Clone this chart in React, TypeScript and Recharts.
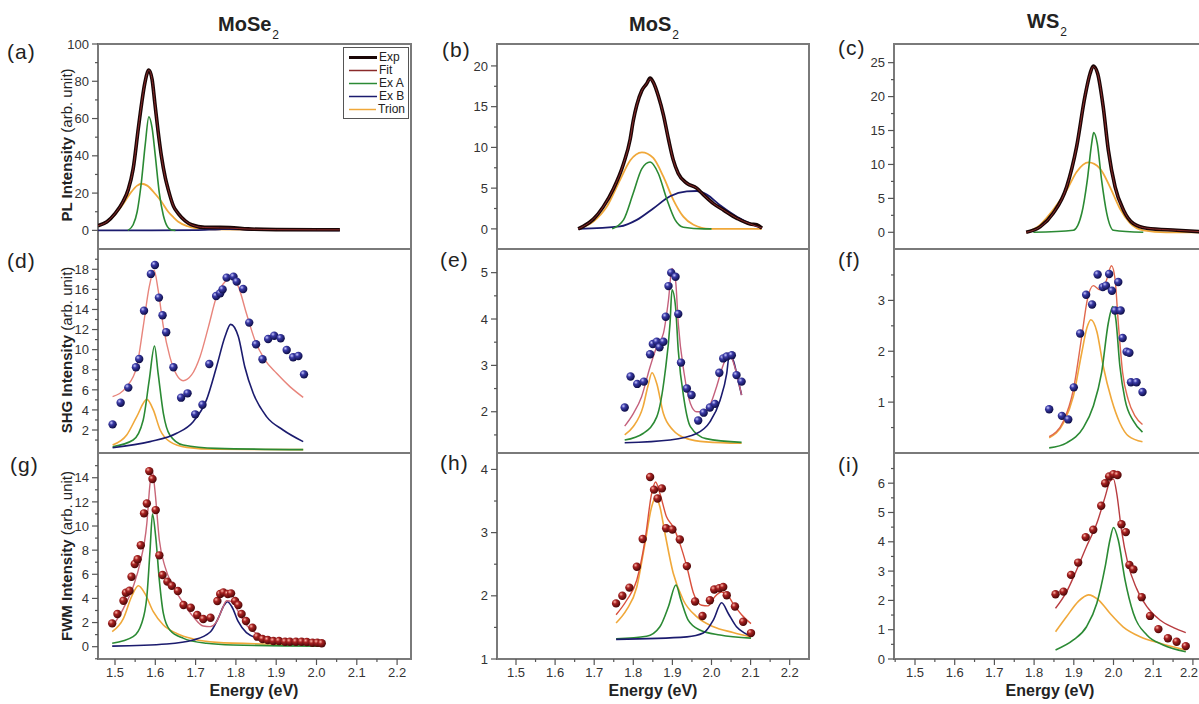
import React from "react";
import { ComposedChart, Line, Scatter, XAxis, YAxis, ReferenceArea, Legend } from "recharts";

type Pt = [number, number];

// energy axis (shared by every column)
const energyTicks = [1.5, 1.6, 1.7, 1.8, 1.9, 2.0, 2.1, 2.2];
const energyLabels = ["1.5", "1.6", "1.7", "1.8", "1.9", "2.0", "2.1", "2.2"];
const energyMinor = [1.45, 1.55, 1.65, 1.75, 1.85, 1.95, 2.05, 2.15, 2.25];

const legendOrder = ["Exp", "Fit", "Ex A", "Ex B", "Trion"];

// ---- (a) MoSe2 PL
const aTicks = [0, 20, 40, 60, 80, 100];
const aMinor = [10, 30, 50, 70, 90];
const aExp: Pt[] = [[1.458, 2.5], [1.48, 4.6], [1.5, 9], [1.52, 15.5], [1.533, 22], [1.545, 33], [1.558, 55], [1.566, 68], [1.574, 79], [1.584, 86], [1.592, 81], [1.599, 68], [1.607, 53], [1.615, 40], [1.625, 28], [1.632, 22], [1.645, 13], [1.657, 9], [1.675, 5], [1.69, 3], [1.723, 1.6], [1.76, 1.6], [1.785, 1.5], [1.83, 0.8], [1.9, 0.4], [2.0, 0.3], [2.058, 0.3]];
const aFit: Pt[] = [[1.458, 2.5], [1.48, 4.6], [1.5, 9], [1.52, 15.5], [1.533, 22], [1.545, 33], [1.558, 55], [1.566, 68], [1.574, 79], [1.584, 86], [1.592, 81], [1.599, 68], [1.607, 53], [1.615, 40], [1.625, 28], [1.632, 22], [1.645, 13], [1.657, 9], [1.675, 5], [1.69, 3], [1.723, 1.5], [1.76, 1.3], [1.785, 1.2], [1.83, 0.7], [1.9, 0.4], [2.0, 0.3], [2.058, 0.3]];
const aExA: Pt[] = [[1.532, 0], [1.545, 3], [1.555, 10], [1.565, 25], [1.575, 46], [1.584, 61], [1.592, 55], [1.6, 40], [1.61, 20], [1.62, 8], [1.63, 2], [1.64, 0.2], [1.65, 0]];
const aExB: Pt[] = [[1.458, 0], [1.7, 0.1], [1.76, 0.6], [1.785, 0.7], [1.83, 0.3], [1.9, 0.1], [2.058, 0]];
const aTrion: Pt[] = [[1.458, 2.5], [1.48, 4.5], [1.5, 8.5], [1.52, 14], [1.54, 20.5], [1.555, 24], [1.566, 25], [1.58, 24], [1.6, 19.5], [1.615, 15.5], [1.632, 10], [1.645, 7], [1.657, 4.6], [1.68, 2.2], [1.7, 1.2], [1.75, 0.5], [1.85, 0.3], [2.058, 0.2]];

// ---- (b) MoS2 PL
const bTicks = [0, 5, 10, 15, 20];
const bMinor = [2.5, 7.5, 12.5, 17.5];
const bExp: Pt[] = [[1.659, 0], [1.672, 0.3], [1.698, 1.2], [1.723, 2.7], [1.749, 4.9], [1.775, 8.0], [1.792, 11.0], [1.8, 13.3], [1.809, 15.2], [1.822, 17.0], [1.834, 17.8], [1.843, 18.5], [1.851, 18.0], [1.864, 16.3], [1.877, 14.0], [1.89, 11.0], [1.902, 8.5], [1.915, 6.8], [1.937, 5.6], [1.962, 5.0], [1.979, 4.2], [2.005, 3.1], [2.031, 2.3], [2.065, 1.3], [2.099, 0.6], [2.116, 0.5], [2.129, 0.1]];
const bFit: Pt[] = [[1.659, 0], [1.672, 0.3], [1.698, 1.2], [1.723, 2.7], [1.749, 4.9], [1.775, 8.0], [1.792, 11.0], [1.8, 13.3], [1.809, 15.2], [1.822, 17.0], [1.834, 17.8], [1.843, 18.4], [1.851, 18.0], [1.864, 16.3], [1.877, 14.0], [1.89, 11.0], [1.902, 8.5], [1.915, 6.8], [1.937, 5.6], [1.962, 5.0], [1.979, 4.2], [2.005, 3.1], [2.031, 2.3], [2.065, 1.3], [2.099, 0.6], [2.129, 0.1]];
const bExA: Pt[] = [[1.746, 0], [1.775, 1.1], [1.8, 4.4], [1.822, 7.4], [1.843, 8.2], [1.864, 6.8], [1.886, 3.6], [1.907, 1.1], [1.928, 0.2], [1.98, 0], [2.0, 0]];
const bExB: Pt[] = [[1.659, 0], [1.766, 0.3], [1.809, 1.1], [1.851, 2.5], [1.894, 4.0], [1.937, 4.6], [1.962, 4.65], [1.988, 4.2], [2.022, 2.9], [2.065, 1.5], [2.107, 0.5], [2.129, 0.1]];
const bTrion: Pt[] = [[1.659, 0], [1.698, 0.9], [1.732, 2.7], [1.766, 6.0], [1.792, 8.4], [1.822, 9.4], [1.851, 8.7], [1.877, 6.4], [1.902, 3.6], [1.928, 1.5], [1.954, 0.5], [1.996, 0], [2.129, 0]];

// ---- (c) WS2 PL
const cTicks = [0, 5, 10, 15, 20, 25];
const cMinor = [2.5, 7.5, 12.5, 17.5, 22.5];
const cExp: Pt[] = [[1.78, 0], [1.815, 0.8], [1.848, 2.8], [1.882, 6.7], [1.907, 12.6], [1.928, 20], [1.941, 23.4], [1.949, 24.5], [1.96, 23.4], [1.974, 18.5], [1.987, 12.1], [2.004, 6.7], [2.025, 3.3], [2.05, 1.3], [2.084, 0.6], [2.159, 0.3], [2.217, 0.1]];
const cFit: Pt[] = [[1.78, 0], [1.815, 0.8], [1.848, 2.8], [1.882, 6.7], [1.907, 12.6], [1.928, 20], [1.941, 23.4], [1.949, 24.4], [1.96, 23.4], [1.974, 18.5], [1.987, 12.1], [2.004, 6.7], [2.025, 3.3], [2.05, 1.3], [2.084, 0.6], [2.159, 0.3], [2.217, 0.1]];
const cExA: Pt[] = [[1.798, 0], [1.899, 0.3], [1.92, 2.8], [1.934, 7.7], [1.945, 13.1], [1.95, 14.7], [1.959, 13.1], [1.97, 7.7], [1.983, 2.8], [2.0, 0.3], [2.075, 0]];
const cTrion: Pt[] = [[1.78, 0], [1.815, 1.1], [1.848, 3.3], [1.882, 6.2], [1.907, 8.9], [1.937, 10.3], [1.966, 9.4], [1.991, 6.7], [2.016, 3.5], [2.041, 1.4], [2.075, 0.3], [2.133, 0], [2.217, 0]];

// ---- (d) MoSe2 SHG
const dTicks = [2, 4, 6, 8, 10, 12, 14, 16, 18];
const dMinor = [1, 3, 5, 7, 9, 11, 13, 15, 17, 19];
const dDots: Pt[] = [[1.494, 2.56], [1.514, 4.72], [1.533, 6.22], [1.552, 8.24], [1.56, 9.07], [1.572, 13.88], [1.589, 17.54], [1.599, 18.43], [1.609, 15.18], [1.618, 13.42], [1.627, 11.73], [1.645, 8.24], [1.664, 5.22], [1.68, 5.65], [1.699, 3.56], [1.717, 4.52], [1.734, 8.57], [1.751, 15.34], [1.761, 15.61], [1.767, 16.0], [1.777, 17.17], [1.794, 17.27], [1.802, 16.77], [1.818, 16.04], [1.833, 12.69], [1.85, 10.53], [1.866, 9.04], [1.88, 11.06], [1.895, 11.39], [1.911, 11.13], [1.926, 9.97], [1.942, 9.24], [1.955, 9.37], [1.969, 7.54]];
const dFit: Pt[] = [[1.494, 5.32], [1.529, 6.32], [1.554, 8.31], [1.57, 12.29], [1.585, 16.27], [1.597, 17.9], [1.607, 15.94], [1.62, 12.29], [1.636, 9.3], [1.653, 7.48], [1.669, 6.91], [1.69, 7.48], [1.711, 9.3], [1.732, 12.29], [1.752, 15.28], [1.773, 16.77], [1.789, 17.1], [1.806, 16.27], [1.826, 13.62], [1.847, 10.96], [1.872, 8.97], [1.901, 7.64], [1.934, 6.32], [1.967, 5.25]];
const dExA: Pt[] = [[1.494, 0.34], [1.545, 1.0], [1.57, 3.0], [1.585, 6.98], [1.598, 10.37], [1.607, 7.64], [1.62, 3.66], [1.636, 1.5], [1.669, 0.5], [1.752, 0.17], [1.967, 0.05]];
const dExB: Pt[] = [[1.494, 0.24], [1.587, 0.84], [1.653, 1.67], [1.694, 2.83], [1.727, 5.0], [1.752, 8.3], [1.773, 11.3], [1.787, 12.52], [1.806, 11.3], [1.822, 8.3], [1.843, 5.65], [1.876, 3.33], [1.917, 2.0], [1.967, 0.84]];
const dTrion: Pt[] = [[1.494, 0.5], [1.529, 1.5], [1.554, 3.33], [1.579, 5.05], [1.595, 4.0], [1.612, 2.0], [1.636, 0.84], [1.678, 0.27], [1.752, 0.08], [1.967, 0.05]];

// ---- (e) MoS2 SHG
const eTicks = [2, 3, 4, 5];
const eMinor = [1.5, 2.5, 3.5, 4.5];
const eDots: Pt[] = [[1.778, 2.09], [1.793, 2.76], [1.81, 2.6], [1.827, 2.65], [1.843, 3.24], [1.85, 3.46], [1.86, 3.51], [1.867, 3.39], [1.877, 3.51], [1.883, 4.05], [1.89, 4.71], [1.897, 5.0], [1.908, 4.91], [1.915, 4.11], [1.922, 3.06], [1.937, 2.5], [1.949, 2.36], [1.966, 1.81], [1.98, 1.98], [1.996, 2.09], [2.009, 2.17], [2.02, 2.84], [2.03, 3.15], [2.039, 3.19], [2.052, 3.22], [2.064, 2.79], [2.077, 2.65]];
const eFit: Pt[] = [[1.778, 1.69], [1.8, 1.96], [1.821, 2.32], [1.843, 2.97], [1.86, 3.4], [1.877, 3.69], [1.89, 4.41], [1.899, 5.09], [1.908, 4.84], [1.915, 3.91], [1.93, 2.83], [1.946, 2.18], [1.962, 2.0], [1.98, 2.0], [1.996, 2.14], [2.013, 2.54], [2.03, 3.01], [2.045, 3.26], [2.058, 3.01], [2.077, 2.36]];
const eExA: Pt[] = [[1.778, 1.39], [1.825, 1.53], [1.86, 1.89], [1.881, 2.83], [1.894, 3.91], [1.899, 4.63], [1.908, 4.27], [1.915, 3.33], [1.93, 2.25], [1.946, 1.68], [1.986, 1.42], [2.077, 1.34]];
const eExB: Pt[] = [[1.778, 1.33], [1.894, 1.39], [1.962, 1.53], [1.996, 1.78], [2.022, 2.25], [2.039, 2.83], [2.045, 3.19], [2.055, 3.12], [2.068, 2.68], [2.077, 2.36]];
const eTrion: Pt[] = [[1.778, 1.5], [1.8, 1.68], [1.825, 2.11], [1.837, 2.54], [1.848, 2.84], [1.86, 2.61], [1.877, 1.96], [1.902, 1.6], [1.937, 1.42], [1.986, 1.35], [2.077, 1.32]];

// ---- (f) WS2 SHG
const fTicks = [1, 2, 3];
const fMinor = [0.5, 1.5, 2.5, 3.5];
const fDots: Pt[] = [[1.838, 0.86], [1.87, 0.73], [1.886, 0.66], [1.9, 1.29], [1.916, 2.35], [1.931, 3.11], [1.946, 2.92], [1.96, 3.51], [1.973, 3.26], [1.981, 3.29], [1.989, 3.52], [1.996, 3.19], [2.004, 2.8], [2.012, 3.36], [2.018, 2.8], [2.023, 2.26], [2.033, 1.99], [2.04, 1.97], [2.044, 1.39], [2.058, 1.39], [2.073, 1.2]];
const fFit: Pt[] = [[1.838, 0.32], [1.874, 0.63], [1.899, 1.25], [1.92, 2.29], [1.934, 3.01], [1.949, 3.29], [1.966, 3.21], [1.981, 3.37], [1.995, 3.68], [2.004, 3.41], [2.012, 2.56], [2.023, 1.58], [2.037, 1.05], [2.054, 0.73], [2.073, 0.56]];
const fExA: Pt[] = [[1.838, 0.1], [1.882, 0.2], [1.924, 0.5], [1.949, 0.92], [1.97, 1.58], [1.987, 2.56], [1.998, 2.88], [2.006, 2.62], [2.016, 1.71], [2.029, 1.05], [2.05, 0.63], [2.073, 0.41]];
const fTrion: Pt[] = [[1.838, 0.3], [1.874, 0.59], [1.899, 1.12], [1.92, 1.97], [1.933, 2.46], [1.943, 2.62], [1.958, 2.39], [1.974, 1.71], [1.995, 1.05], [2.016, 0.59], [2.038, 0.33], [2.073, 0.22]];

// ---- (g) MoSe2 FWM
const gTicks = [0, 2, 4, 6, 8, 10, 12, 14];
const gMinor = [-1, 1, 3, 5, 7, 9, 11, 13, 15];
const gDots: Pt[] = [[1.493, 1.93], [1.506, 2.71], [1.521, 3.81], [1.527, 4.47], [1.536, 4.64], [1.541, 5.8], [1.549, 6.85], [1.556, 7.24], [1.564, 8.4], [1.572, 11.05], [1.579, 11.87], [1.585, 14.55], [1.593, 13.89], [1.601, 11.32], [1.61, 7.57], [1.618, 5.94], [1.63, 5.39], [1.641, 5.05], [1.656, 4.61], [1.67, 3.45], [1.688, 3.23], [1.704, 2.62], [1.719, 2.29], [1.737, 2.4], [1.754, 3.78], [1.761, 4.36], [1.769, 4.5], [1.78, 4.36], [1.788, 4.42], [1.798, 3.78], [1.806, 3.45], [1.814, 2.71], [1.825, 2.13], [1.841, 1.57], [1.853, 0.83], [1.866, 0.64], [1.879, 0.55], [1.893, 0.47], [1.907, 0.47], [1.922, 0.41], [1.934, 0.41], [1.949, 0.41], [1.963, 0.41], [1.976, 0.39], [1.99, 0.33], [2.002, 0.33], [2.013, 0.28]];
const gFit: Pt[] = [[1.493, 1.66], [1.521, 3.18], [1.545, 4.97], [1.562, 6.9], [1.579, 10.22], [1.587, 13.53], [1.593, 14.5], [1.599, 12.98], [1.61, 8.84], [1.624, 6.63], [1.645, 4.97], [1.67, 3.59], [1.694, 2.49], [1.719, 1.71], [1.736, 1.66], [1.752, 2.07], [1.765, 3.04], [1.777, 3.81], [1.79, 3.73], [1.806, 2.9], [1.826, 1.8], [1.851, 1.1], [1.884, 0.69], [1.934, 0.55], [2.013, 0.47]];
const gExA: Pt[] = [[1.493, 0.28], [1.545, 0.83], [1.566, 1.93], [1.579, 4.14], [1.587, 8.01], [1.593, 10.99], [1.601, 9.11], [1.61, 5.52], [1.62, 2.76], [1.636, 1.38], [1.67, 0.69], [1.727, 0.28], [1.793, 0.14], [2.013, 0.05]];
const gExB: Pt[] = [[1.493, 0.05], [1.628, 0.22], [1.694, 0.55], [1.737, 1.24], [1.756, 2.35], [1.771, 3.45], [1.779, 3.73], [1.79, 3.31], [1.806, 2.07], [1.826, 1.16], [1.86, 0.64], [1.918, 0.36], [2.013, 0.22]];
const gTrion: Pt[] = [[1.493, 1.24], [1.521, 2.35], [1.541, 4.14], [1.558, 5.05], [1.574, 4.42], [1.595, 2.9], [1.62, 1.8], [1.653, 1.1], [1.694, 0.64], [1.752, 0.36], [1.878, 0.22], [2.013, 0.14]];

// ---- (h) MoS2 FWM
const hTicks = [1, 2, 3, 4];
const hMinor = [1.5, 2.5, 3.5];
const hDots: Pt[] = [[1.756, 1.88], [1.772, 2.0], [1.79, 2.13], [1.809, 2.46], [1.824, 2.9], [1.843, 3.88], [1.853, 3.68], [1.862, 3.54], [1.873, 3.7], [1.884, 3.07], [1.9, 3.05], [1.919, 2.89], [1.937, 2.47], [1.958, 1.91], [1.977, 1.68], [1.996, 1.93], [2.007, 2.1], [2.02, 2.12], [2.03, 2.14], [2.039, 2.01], [2.06, 1.83], [2.081, 1.59], [2.101, 1.41]];
const hFit: Pt[] = [[1.756, 1.7], [1.783, 1.93], [1.809, 2.25], [1.83, 2.88], [1.847, 3.62], [1.857, 3.8], [1.868, 3.62], [1.885, 3.25], [1.902, 3.09], [1.919, 2.83], [1.937, 2.46], [1.954, 2.04], [1.975, 1.85], [1.991, 1.84], [2.009, 1.99], [2.026, 2.06], [2.039, 2.03], [2.055, 1.88], [2.077, 1.7], [2.101, 1.56]];
const hExA: Pt[] = [[1.756, 1.32], [1.834, 1.36], [1.868, 1.51], [1.89, 1.83], [1.909, 2.17], [1.922, 1.93], [1.94, 1.62], [1.97, 1.46], [2.022, 1.38], [2.101, 1.33]];
const hExB: Pt[] = [[1.756, 1.31], [1.937, 1.35], [1.979, 1.41], [2.005, 1.62], [2.026, 1.89], [2.043, 1.72], [2.064, 1.51], [2.085, 1.41], [2.101, 1.36]];
const hTrion: Pt[] = [[1.756, 1.57], [1.783, 1.78], [1.809, 2.14], [1.83, 2.83], [1.847, 3.41], [1.858, 3.57], [1.868, 3.41], [1.881, 2.99], [1.902, 2.36], [1.928, 1.93], [1.962, 1.67], [2.005, 1.51], [2.055, 1.42], [2.101, 1.35]];

// ---- (i) WS2 FWM
const iTicks = [0, 1, 2, 3, 4, 5, 6];
const iMinor = [0.5, 1.5, 2.5, 3.5, 4.5, 5.5, 6.5];
const iDots: Pt[] = [[1.854, 2.21], [1.874, 2.3], [1.893, 2.87], [1.911, 3.29], [1.93, 4.16], [1.949, 4.41], [1.969, 5.23], [1.979, 6.0], [1.989, 6.23], [2.0, 6.31], [2.01, 6.28], [2.02, 4.6], [2.031, 4.33], [2.04, 3.21], [2.05, 3.06], [2.071, 2.11], [2.092, 1.47], [2.113, 1.02], [2.137, 0.71], [2.159, 0.59], [2.182, 0.44]];
const iFit: Pt[] = [[1.854, 1.73], [1.882, 2.3], [1.907, 3.04], [1.932, 3.84], [1.958, 4.63], [1.979, 5.54], [1.991, 6.06], [2.0, 6.14], [2.008, 5.66], [2.02, 4.41], [2.036, 3.27], [2.058, 2.41], [2.084, 1.79], [2.117, 1.33], [2.151, 1.07], [2.182, 0.9]];
const iExA: Pt[] = [[1.854, 0.31], [1.899, 0.65], [1.932, 1.1], [1.958, 1.9], [1.979, 3.15], [1.991, 4.06], [2.0, 4.49], [2.012, 4.06], [2.029, 2.7], [2.05, 1.56], [2.084, 0.82], [2.125, 0.48], [2.182, 0.25]];
const iTrion: Pt[] = [[1.854, 0.93], [1.882, 1.45], [1.911, 1.96], [1.937, 2.19], [1.962, 2.02], [1.991, 1.56], [2.024, 1.1], [2.067, 0.76], [2.117, 0.54], [2.182, 0.31]];

// ---------------------------------------------------------------- layout
const PAGE_W = 1199;
const COLS = [
  { left: 98, right: 411, xDomain: [1.4578, 2.2345] as [number, number] },
  { left: 497, right: 809, xDomain: [1.4514, 2.2494] as [number, number] },
  { left: 894, right: 1213, xDomain: [1.4471, 2.2506] as [number, number] },
];
const ROWS = [
  { top: 44, bottom: 249 },
  { top: 249, bottom: 453 },
  { top: 453, bottom: 659 },
];

const C_EXP = "#1a0606";
const C_EXA = "#2b8a34";
const C_EXB = "#1b1b6e";
const C_TRION = "#f0a83a";

interface Series { name: string; pts: Pt[]; color: string; width: number }
interface PanelSpec {
  id: string; col: number; row: number;
  yDomain: [number, number]; yTicks: number[]; yMinor: number[];
  lines: Series[]; dots?: Pt[]; ball?: "shg" | "fwm"; legend?: boolean;
}

const plLines = (exp: Pt[], fit: Pt[], exA: Pt[], exB: Pt[] | null, trion: Pt[]): Series[] => [
  { name: "Trion", pts: trion, color: C_TRION, width: 1.8 },
  ...(exB ? [{ name: "Ex B", pts: exB, color: C_EXB, width: 1.8 }] : []),
  { name: "Ex A", pts: exA, color: C_EXA, width: 1.6 },
  { name: "Exp", pts: exp, color: C_EXP, width: 3.6 },
  { name: "Fit", pts: fit, color: "#8a2a2a", width: 1 },
];

const fitLines = (fit: Pt[], fitColor: string, exA: Pt[], exB: Pt[] | null, trion: Pt[]): Series[] => [
  { name: "Trion", pts: trion, color: C_TRION, width: 1.6 },
  { name: "Ex A", pts: exA, color: C_EXA, width: 1.6 },
  ...(exB ? [{ name: "Ex B", pts: exB, color: C_EXB, width: 1.6 }] : []),
  { name: "Fit", pts: fit, color: fitColor, width: 1.4 },
];

const panels: PanelSpec[] = [
  { id: "a", col: 0, row: 0, yDomain: [-10, 100], yTicks: aTicks, yMinor: aMinor, lines: plLines(aExp, aFit, aExA, aExB, aTrion), legend: true },
  { id: "b", col: 1, row: 0, yDomain: [-2.47, 22.69], yTicks: bTicks, yMinor: bMinor, lines: plLines(bExp, bFit, bExA, bExB, bTrion) },
  { id: "c", col: 2, row: 0, yDomain: [-2.46, 27.75], yTicks: cTicks, yMinor: cMinor, lines: plLines(cExp, cFit, cExA, null, cTrion) },
  { id: "d", col: 0, row: 1, yDomain: [-0.29, 20.02], yTicks: dTicks, yMinor: dMinor, lines: fitLines(dFit, "#e8857c", dExA, dExB, dTrion), dots: dDots, ball: "shg" },
  { id: "e", col: 1, row: 1, yDomain: [1.11, 5.51], yTicks: eTicks, yMinor: eMinor, lines: fitLines(eFit, "#c4607c", eExA, eExB, eTrion), dots: eDots, ball: "shg" },
  { id: "f", col: 2, row: 1, yDomain: [0, 4.01], yTicks: fTicks, yMinor: fMinor, lines: fitLines(fFit, "#e0684e", fExA, null, fTrion), dots: fDots, ball: "shg" },
  { id: "g", col: 0, row: 2, yDomain: [-1.02, 16.05], yTicks: gTicks, yMinor: gMinor, lines: fitLines(gFit, "#c86678", gExA, gExB, gTrion), dots: gDots, ball: "fwm" },
  { id: "h", col: 1, row: 2, yDomain: [1, 4.26], yTicks: hTicks, yMinor: hMinor, lines: fitLines(hFit, "#d9503c", hExA, hExB, hTrion), dots: hDots, ball: "fwm" },
  { id: "i", col: 2, row: 2, yDomain: [0, 7.03], yTicks: iTicks, yMinor: iMinor, lines: fitLines(iFit, "#b83c40", iExA, null, iTrion), dots: iDots, ball: "fwm" },
];

const PAD_L = 50;
const PAD_R = 4;
const PAD_T = 10;
const AXIS_H = 40;

const toRows = (pts: Pt[]) => pts.map(([x, y]) => ({ x, y }));
const near = (v: number, list: number[]) => list.some((t) => Math.abs(t - v) < 1e-6);

function YTick(props: any) {
  const { x, y, payload, majors } = props;
  const major = near(payload.value, majors);
  return (
    <g>
      <line x1={x - (major ? 6 : 3)} x2={x} y1={y} y2={y} stroke="#555" strokeWidth={1.2} />
      {major && (
        <text x={x - 9} y={y} dy="0.36em" textAnchor="end" fontSize={13} fill="#333">
          {payload.value}
        </text>
      )}
    </g>
  );
}

function XTick(props: any) {
  const { x, y, payload, maxX } = props;
  const idx = energyTicks.findIndex((t) => Math.abs(t - payload.value) < 1e-6);
  const major = idx >= 0;
  // keep the last label inside the visible page (it sits right at the edge)
  const clipped = x + 11 > maxX;
  return (
    <g>
      <line x1={x} x2={x} y1={y} y2={y + (major ? 6 : 3)} stroke="#555" strokeWidth={1.2} />
      {major && (
        <text x={clipped ? maxX - 1 : x} y={y + 18} textAnchor={clipped ? "end" : "middle"} fontSize={13} fill="#333">
          {energyLabels[idx]}
        </text>
      )}
    </g>
  );
}

function LegendBox(props: any) {
  const items = [...(props.payload ?? [])].sort(
    (a: any, b: any) => legendOrder.indexOf(a.value) - legendOrder.indexOf(b.value)
  );
  return (
    <div style={{ border: "1px solid #555", background: "#fff", padding: "3px 3px 2px 5px", fontSize: 12, lineHeight: "13px", color: "#222" }}>
      {items.map((it: any) => (
        <div key={it.value} style={{ display: "flex", alignItems: "center", height: 13 }}>
          <svg width={28} height={13}>
            <line x1={0} x2={28} y1={6.5} y2={6.5} stroke={it.color} strokeWidth={it.value === "Exp" ? 3 : 1.5} />
          </svg>
          <span style={{ marginLeft: 2 }}>{it.value}</span>
        </div>
      ))}
    </div>
  );
}

function Ball({ cx, cy, kind }: any) {
  if (cx == null || cy == null) return null;
  return <circle cx={cx} cy={cy} r={4.2} fill={`url(#ball-${kind})`} />;
}

function Panel({ spec }: { spec: PanelSpec }) {
  const col = COLS[spec.col];
  const row = ROWS[spec.row];
  const showX = spec.row === 2;
  const w = col.right - col.left;
  const h = row.bottom - row.top;
  const padB = showX ? AXIS_H : 4;
  const left = col.left - PAD_L;
  const top = row.top - PAD_T;
  const [x0, x1] = col.xDomain;
  const [y0, y1] = spec.yDomain;
  const xTicks = [...energyTicks, ...energyMinor].filter((v) => v > x0 && v < x1).sort((a, b) => a - b);
  const yTicks = [...spec.yTicks, ...spec.yMinor].filter((v) => v >= y0 && v <= y1).sort((a, b) => a - b);

  return (
    <div style={{ position: "absolute", left, top }}>
      <ComposedChart
        width={w + PAD_L + PAD_R}
        height={h + PAD_T + padB}
        margin={{ top: PAD_T, right: PAD_R, left: 0, bottom: showX ? 0 : padB }}
      >
        <defs>
          <radialGradient id="ball-shg" cx="35%" cy="32%" r="70%">
            <stop offset="0%" stopColor="#c9c9ff" />
            <stop offset="35%" stopColor="#3a3aa6" />
            <stop offset="100%" stopColor="#0c0c44" />
          </radialGradient>
          <radialGradient id="ball-fwm" cx="35%" cy="32%" r="70%">
            <stop offset="0%" stopColor="#ffb6a8" />
            <stop offset="35%" stopColor="#a82222" />
            <stop offset="100%" stopColor="#480606" />
          </radialGradient>
        </defs>
        <XAxis
          type="number"
          dataKey="x"
          domain={col.xDomain}
          allowDataOverflow
          ticks={xTicks}
          interval={0}
          hide={!showX}
          height={AXIS_H}
          tickSize={0}
          tickMargin={0}
          axisLine={false}
          tickLine={false}
          tick={(p: any) => <XTick {...p} maxX={PAGE_W - left} />}
        />
        <YAxis
          type="number"
          dataKey="y"
          domain={spec.yDomain}
          allowDataOverflow
          ticks={yTicks}
          interval={0}
          width={PAD_L}
          tickSize={0}
          tickMargin={0}
          axisLine={false}
          tickLine={false}
          tick={(p: any) => <YTick {...p} majors={spec.yTicks} />}
        />
        <ReferenceArea x1={x0} x2={x1} y1={y0} y2={y1} fill="none" stroke="#7a7a7a" strokeWidth={2} ifOverflow="visible" />
        {spec.lines.map((s) => (
          <Line
            key={s.name}
            name={s.name}
            data={toRows(s.pts)}
            dataKey="y"
            type="monotone"
            stroke={s.color}
            strokeWidth={s.width}
            dot={false}
            activeDot={false}
            isAnimationActive={false}
          />
        ))}
        {spec.dots && (
          <Scatter
            name="data"
            data={toRows(spec.dots)}
            dataKey="y"
            legendType="none"
            shape={(p: any) => <Ball {...p} kind={spec.ball} />}
            isAnimationActive={false}
          />
        )}
        {spec.legend && (
          <Legend
            layout="vertical"
            align="center"
            verticalAlign="middle"
            content={(p: any) => <LegendBox {...p} />}
            wrapperStyle={{ left: 343 - left, top: 47 - top, width: 66, height: 68 }}
          />
        )}
      </ComposedChart>
    </div>
  );
}

const titles = [
  { text: "MoSe", left: 218, top: 14 },
  { text: "MoS", left: 629, top: 14 },
  { text: "WS", left: 1027, top: 11 },
];

const letters = [
  { t: "(a)", left: 7, top: 41 },
  { t: "(b)", left: 442, top: 39 },
  { t: "(c)", left: 838, top: 37 },
  { t: "(d)", left: 7, top: 250 },
  { t: "(e)", left: 440, top: 249 },
  { t: "(f)", left: 838, top: 249 },
  { t: "(g)", left: 10, top: 454 },
  { t: "(h)", left: 440, top: 452 },
  { t: "(i)", left: 838, top: 454 },
];

const yTitles = [
  { lead: "PL Intensity", cy: 145 },
  { lead: "SHG Intensity", cy: 350 },
  { lead: "FWM Intensity", cy: 556 },
];

export default function App() {
  return (
    <div
      style={{
        position: "fixed",
        left: 0,
        top: 0,
        width: PAGE_W,
        height: 704,
        overflow: "hidden",
        background: "#fff",
        fontFamily: '"Liberation Sans", Arial, sans-serif',
        color: "#222",
      }}
    >
      {panels.map((p) => (
        <Panel key={p.id} spec={p} />
      ))}

      {titles.map((t) => (
        <div key={t.text} style={{ position: "absolute", left: t.left, top: t.top, fontSize: 20, fontWeight: 700, lineHeight: "20px", whiteSpace: "nowrap" }}>
          {t.text}
          <span style={{ fontSize: 12, position: "relative", top: 8, marginLeft: 1, fontWeight: 400 }}>2</span>
        </div>
      ))}

      {letters.map((l) => (
        <div key={l.t} style={{ position: "absolute", left: l.left, top: l.top, fontSize: 21, lineHeight: "21px", letterSpacing: 1 }}>
          {l.t}
        </div>
      ))}

      {yTitles.map((y) => (
        <div
          key={y.lead}
          style={{
            position: "absolute",
            left: 66,
            top: y.cy,
            transform: "translate(-50%, -50%) rotate(-90deg)",
            whiteSpace: "nowrap",
            fontSize: 15,
            lineHeight: "15px",
          }}
        >
          <b>{y.lead}</b> (arb. unit)
        </div>
      ))}

      {COLS.map((c, i) => (
        <div
          key={i}
          style={{
            position: "absolute",
            left: c.left + (Math.min(c.right, c.left + 312) - c.left) / 2 - 100,
            width: 200,
            top: 683,
            textAlign: "center",
            fontSize: 16,
            fontWeight: 700,
            lineHeight: "16px",
          }}
        >
          Energy (eV)
        </div>
      ))}
    </div>
  );
}
